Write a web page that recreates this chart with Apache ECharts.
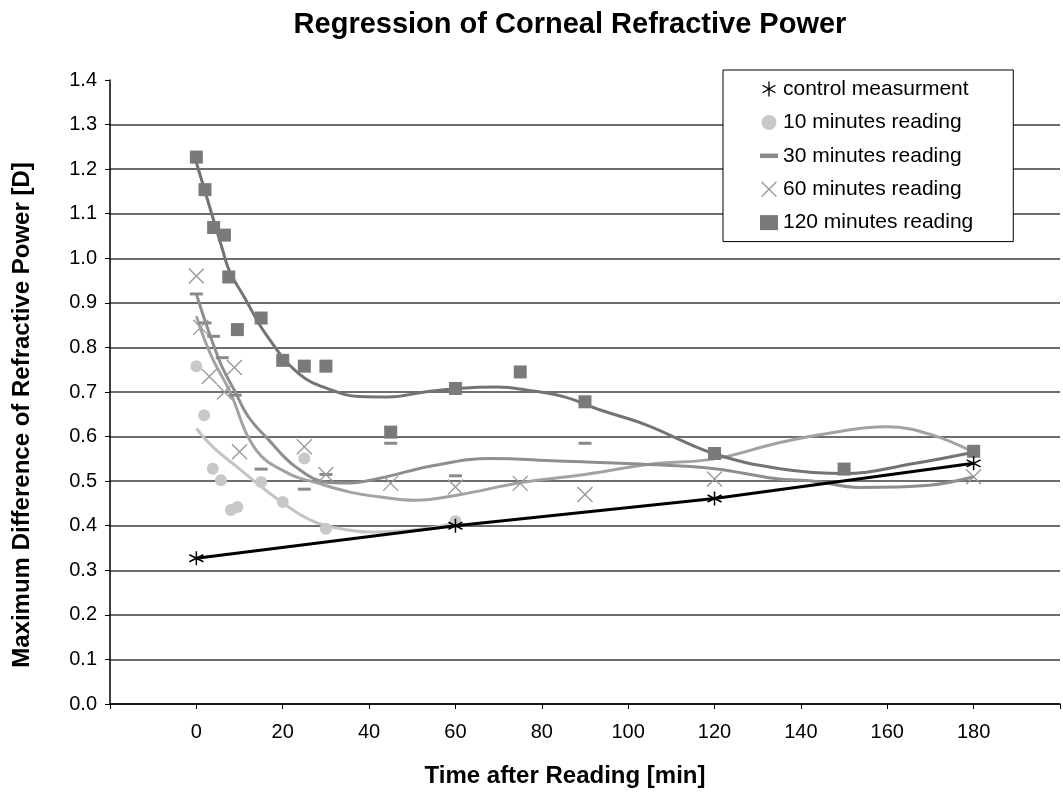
<!DOCTYPE html>
<html>
<head>
<meta charset="utf-8">
<script src="https://cdn.jsdelivr.net/npm/echarts@6.0.0/dist/echarts.min.js"></script>
<style>
html, body { margin: 0; padding: 0; background: #fff; }
#main { width: 1063px; height: 793px; }
</style>
</head>
<body>
<div id="main"></div>
<script>
// control measurement
var controlT = [0, 60, 120, 180];
var controlV = [0.327, 0.400, 0.461, 0.540];

// 10 minutes reading
var tenT = [0, 1.8, 3.8, 5.7, 8, 9.5, 15, 20, 25, 30, 60];
var tenV = [0.758, 0.648, 0.528, 0.502, 0.435, 0.442, 0.498, 0.453, 0.551, 0.393, 0.410];
var tenTrendT = [0, 3.8, 9.9, 16, 23.7, 28.3, 33, 40, 50, 60];
var tenTrendV = [0.618, 0.577, 0.528, 0.480, 0.427, 0.405, 0.394, 0.386, 0.390, 0.405];

// 30 minutes reading
var thirtyT = [0, 2, 4, 6, 9, 15, 25, 30, 45, 60, 90, 180];
var thirtyV = [0.920, 0.855, 0.825, 0.777, 0.693, 0.527, 0.482, 0.515, 0.585, 0.512, 0.585, 0.560];
var thirtyTrendT = [0, 2, 4, 6, 8.8, 12, 16.8, 23, 30.6, 35.3, 42.2, 55, 68.3, 83.7, 103.6, 120, 134, 143, 153.6, 169.7, 180];
var thirtyTrendV = [0.920, 0.860, 0.805, 0.755, 0.704, 0.645, 0.592, 0.532, 0.497, 0.496, 0.506, 0.535, 0.551, 0.545, 0.538, 0.528, 0.506, 0.500, 0.486, 0.491, 0.510];

// 60 minutes reading
var sixtyT = [0, 1, 3, 6.5, 8.8, 10, 25, 30, 45, 60, 75, 90, 120, 180];
var sixtyV = [0.960, 0.845, 0.735, 0.700, 0.755, 0.566, 0.577, 0.515, 0.495, 0.487, 0.495, 0.470, 0.505, 0.510];
var sixtyTrendT = [0, 2, 4, 7.6, 13.8, 21.4, 28.3, 35.3, 42.2, 50.6, 60.6, 75.2, 90, 105, 120, 134, 143, 160, 170, 180];
var sixtyTrendV = [0.870, 0.815, 0.770, 0.704, 0.570, 0.517, 0.495, 0.476, 0.465, 0.457, 0.469, 0.497, 0.515, 0.538, 0.550, 0.584, 0.602, 0.622, 0.605, 0.565];

// 120 minutes reading
var hundredT = [0, 2, 4, 6.5, 7.5, 9.5, 15, 20, 25, 30, 45, 60, 75, 90, 120, 150, 180];
var hundredV = [1.227, 1.154, 1.069, 1.052, 0.958, 0.840, 0.866, 0.771, 0.758, 0.758, 0.610, 0.708, 0.745, 0.678, 0.562, 0.527, 0.567];
var hundredTrendT = [0, 6.1, 7.6, 11.5, 16, 23.7, 31.4, 37.6, 44.5, 52.9, 60.6, 69.8, 76.7, 85.2, 93.7, 104, 119.8, 135.1, 150.5, 165.8, 180];
var hundredTrendV = [1.215, 1.018, 0.973, 0.906, 0.831, 0.741, 0.704, 0.690, 0.689, 0.700, 0.708, 0.711, 0.704, 0.689, 0.659, 0.627, 0.562, 0.528, 0.517, 0.539, 0.565];

var yTicks = ['0.0','0.1','0.2','0.3','0.4','0.5','0.6','0.7','0.8','0.9','1.0','1.1','1.2','1.3','1.4'];

function pairs(t, v) {
	var out = [];
	for (var i = 0; i < t.length; i++) {
		out.push([t[i], v[i]]);
	}
	return out;
}

var starPath = 'path://M5,0L5,10M0.7,2.5L9.3,7.5M9.3,2.5L0.7,7.5';
var crossPath = 'path://M0,0L10,10M10,0L0,10';
var dashPath = 'path://M0,0L12,0L12,3L0,3Z';
var font = 'Liberation Sans';

// grid line colours, top one hidden (no line at 1.4)
var gridColors = [];
for (var i = 0; i < yTicks.length; i++) {
	gridColors.push(i == yTicks.length - 1 ? 'rgba(0,0,0,0)' : '#3c3c3c');
}

function trend(name, data, color) {
	return {
		name: name,
		type: 'line',
		data: data,
		smooth: 0.4,
		showSymbol: false,
		symbol: 'none',
		silent: true,
		z: 2,
		lineStyle: { color: color, width: 3 }
	};
}

var chart = echarts.init(document.getElementById('main'));

var option = {
	backgroundColor: '#fff',
	animation: false,
	title: {
		text: 'Regression of Corneal Refractive Power',
		left: 565,
		top: 5,
		textAlign: 'center',
		textStyle: {
			fontFamily: font,
			fontSize: 29,
			fontWeight: 'bold',
			color: '#000'
		}
	},
	legend: {
		orient: 'vertical',
		left: 723,
		top: 70,
		padding: [8, 40, 8, 37],
		itemGap: 11.4,
		itemWidth: 18,
		itemHeight: 15,
		borderColor: '#000',
		borderWidth: 1,
		backgroundColor: '#fff',
		textStyle: { fontFamily: font, fontSize: 21, color: '#000', lineHeight: 22 },
		data: [
			{ name: 'control measurment', icon: starPath, itemStyle: { color: 'rgba(0,0,0,0)', borderColor: '#000', borderWidth: 1.3 } },
			{ name: '10 minutes reading', icon: 'circle', itemStyle: { color: '#c8c8c8', borderWidth: 0 } },
			{ name: '30 minutes reading', icon: dashPath, itemStyle: { color: '#8a8a8a', borderWidth: 0 } },
			{ name: '60 minutes reading', icon: crossPath, itemStyle: { color: 'rgba(0,0,0,0)', borderColor: '#9a9a9a', borderWidth: 1.3 } },
			{ name: '120 minutes reading', icon: 'rect', itemStyle: { color: '#7a7a7a', borderWidth: 0 } }
		]
	},
	grid: {
		left: 110,
		right: 0,
		top: 80,
		bottom: 89
	},
	xAxis: {
		type: 'value',
		min: -20,
		max: 200,
		interval: 20,
		name: 'Time after Reading [min]',
		nameLocation: 'middle',
		nameGap: 60,
		nameTextStyle: { fontFamily: font, fontSize: 24, fontWeight: 'bold', color: '#000', padding: [0, 40, 0, 0] },
		axisLine: { onZero: false, lineStyle: { color: '#000', width: 1.5 } },
		axisTick: { show: true, length: 5, lineStyle: { color: '#000' } },
		axisLabel: {
			margin: 18,
			fontFamily: font,
			fontSize: 20,
			color: '#000',
			formatter: function (val) {
				if (val < 0 || val > 180) return '';
				return String(val);
			}
		},
		splitLine: { show: false }
	},
	yAxis: {
		type: 'value',
		min: 0,
		max: 1.4,
		interval: 0.1,
		name: 'Maximum Difference of Refractive Power [D]',
		nameLocation: 'middle',
		nameGap: 76,
		nameTextStyle: { fontFamily: font, fontSize: 24, fontWeight: 'bold', color: '#000', padding: [0, 46, 0, 0] },
		axisLine: { show: true, onZero: false, lineStyle: { color: '#000', width: 1.5 } },
		axisTick: { show: true, length: 5, lineStyle: { color: '#000' } },
		axisLabel: {
			margin: 13,
			fontFamily: font,
			fontSize: 20,
			color: '#000',
			formatter: function (val) {
				return yTicks[Math.round(val * 10)];
			}
		},
		splitLine: { show: true, lineStyle: { color: gridColors, width: 1.5 } }
	},
	series: [
		trend('10 min trend', pairs(tenTrendT, tenTrendV), '#c4c4c4'),
		trend('60 min trend', pairs(sixtyTrendT, sixtyTrendV), '#a2a2a2'),
		trend('30 min trend', pairs(thirtyTrendT, thirtyTrendV), '#8e8e8e'),
		trend('120 min trend', pairs(hundredTrendT, hundredTrendV), '#737373'),
		{
			name: 'control measurment',
			type: 'line',
			data: pairs(controlT, controlV),
			symbol: starPath,
			symbolSize: 14,
			z: 5,
			itemStyle: { color: 'rgba(0,0,0,0)', borderColor: '#000', borderWidth: 1.5 },
			lineStyle: { color: '#000', width: 3 }
		},
		{
			name: '10 minutes reading',
			type: 'scatter',
			data: pairs(tenT, tenV),
			symbol: 'circle',
			symbolSize: 12,
			z: 3,
			itemStyle: { color: '#c8c8c8', opacity: 1 }
		},
		{
			name: '30 minutes reading',
			type: 'scatter',
			data: pairs(thirtyT, thirtyV),
			symbol: 'rect',
			symbolSize: [13, 3],
			z: 3,
			itemStyle: { color: '#8a8a8a', opacity: 1 }
		},
		{
			name: '60 minutes reading',
			type: 'scatter',
			data: pairs(sixtyT, sixtyV),
			symbol: crossPath,
			symbolSize: 15,
			z: 3,
			itemStyle: { color: 'rgba(0,0,0,0)', borderColor: '#9a9a9a', borderWidth: 1.4, opacity: 1 }
		},
		{
			name: '120 minutes reading',
			type: 'scatter',
			data: pairs(hundredT, hundredV),
			symbol: 'rect',
			symbolSize: 13,
			z: 4,
			itemStyle: { color: '#7a7a7a', opacity: 1 }
		}
	]
};

chart.setOption(option, true);
</script>
</body>
</html>
